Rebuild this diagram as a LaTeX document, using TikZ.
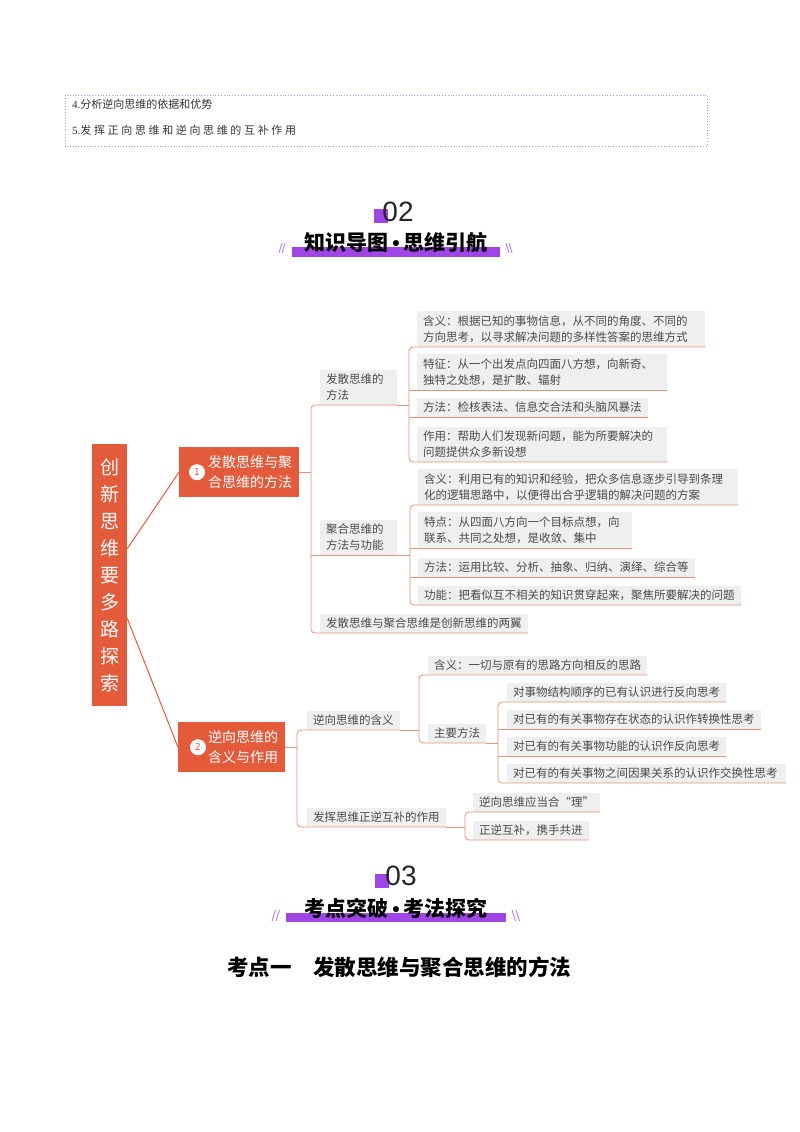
\documentclass[tikz,border=0pt]{standalone}
\usepackage{fontspec}
\setmainfont{Noto Sans CJK SC}
\newfontfamily\listfont{Noto Sans CJK SC}
\newfontfamily\listwide[LetterSpace=24]{Noto Sans CJK SC}
\newfontfamily\listdigit{Liberation Serif}
\newfontfamily\digitfont{Liberation Sans}
\usetikzlibrary{positioning,calc}

\definecolor{mapred}{HTML}{E45B3C}
\definecolor{maplink}{HTML}{E5937A}
\definecolor{boxgray}{HTML}{EFEFEF}
\definecolor{inkgray}{HTML}{4A4A4A}
\definecolor{accent}{HTML}{A046E6}
\definecolor{accentlight}{HTML}{B77FE8}
\definecolor{framepurple}{HTML}{B792DC}

\tikzset{
  leaf/.style={fill=boxgray, text=inkgray, align=left, anchor=south west,
    inner xsep=6pt, inner ysep=4pt, font=\fontsize{11.5}{16.5}\selectfont},
  link/.style={draw=maplink, line width=0.8pt, rounded corners=4pt},
  rootlink/.style={draw=mapred, line width=1pt},
  rootbox/.style={fill=mapred, text=white, align=center, inner sep=0pt,
    minimum width=35pt, minimum height=262pt, font=\fontsize{19}{27}\selectfont},
  mainbox/.style={fill=mapred, minimum height=50pt, anchor=north west, inner sep=0pt},
  maintext/.style={text=white, align=left, anchor=east, inner sep=0pt,
    font=\fontsize{14}{20}\selectfont},
  numdot/.style={circle, fill=white, text=mapred, minimum size=16pt, inner sep=0pt,
    font=\fontsize{10}{10}\selectfont},
  listline/.style={anchor=west, inner sep=0pt, text=black!80,
    font=\fontsize{11}{11}\selectfont},
  bignum/.style={inner sep=0pt, text=black!85, font=\digitfont\fontsize{28}{28}\selectfont},
  secttitle/.style={inner sep=0pt, text=black, font=\fontsize{21}{21}\selectfont\bfseries},
  slash/.style={draw=accentlight, line width=0.9pt}
}
\newcommand{\titledot}{{\digitfont\bfseries\,•\,}}

\begin{document}
\begin{tikzpicture}[x=1pt, y=-1pt]
  \useasboundingbox (0,0) rectangle (800,1132);
  \fill[white] (0,0) rectangle (800,1132);

  %% Objectives box (end of list)
  \draw[framepurple, dotted, line width=0.8pt] (65,95) rectangle (707,146);
  \node[listline] (obj4) at (72,104) {{\listdigit 4.}\listfont 分析逆向思维的依据和优势};
  \node[listline] (obj5) at (72,130) {{\listdigit 5.}\listwide 发挥正向思维和逆向思维的互补作用};

  %% Section 02 title
  \fill[accent] (374,209) rectangle (388,223);
  \node[bignum] (num02) at (398,212) {02};
  \fill[accent] (292,247) rectangle (500,257);
  \node[secttitle] (title02) at (396,243) {知识导图\titledot 思维引航};
  \foreach \x in {279,282} \draw[slash] (\x,253) -- ++(3,-10);
  \foreach \x in {506,509} \draw[slash] (\x,243) -- ++(3,10);

  %% Root and the two main branches
  \node[rootbox] (root) at (109.5,575) {创\\新\\思\\维\\要\\多\\路\\探\\索};

  \node[mainbox, minimum width=120pt] (n1) at (179,447) {};
  \node[maintext] (n1t) at ([xshift=-7pt]n1.east) {发散思维与聚\\合思维的方法};
  \node[numdot] (n1c) at ([xshift=18pt]n1.west) {1};

  \node[mainbox, minimum width=107pt] (n2) at (178,722) {};
  \node[maintext] (n2t) at ([xshift=-7pt]n2.east) {逆向思维的\\含义与作用};
  \node[numdot] (n2c) at ([xshift=20pt]n2.west) {2};

  \draw[rootlink] ($(root.north east)!0.4!(root.south east)$) -- (n1.west);
  \draw[rootlink] ($(root.north east)!0.665!(root.south east)$) -- (n2.west);

  %% Branch 1: second level
  \node[leaf, text width=65pt] (A) at (320,405) {发散思维的\\方法};
  \node[leaf, text width=65pt] (B) at (320,555) {聚合思维的\\方法与功能};
  \node[leaf] (C) at (320,633) {发散思维与聚合思维是创新思维的两翼};

  %% Branch 1: leaves
  \node[leaf, text width=276pt] (a1) at (417,347) {含义：根据已知的事物信息，从不同的角度、不同的\\方向思考，以寻求解决问题的多样性答案的思维方式};
  \node[leaf, text width=238pt] (a2) at (417,390) {特征：从一个出发点向四面八方想，向新奇、\\独特之处想，是扩散、辐射};
  \node[leaf] (a3) at (417,417) {方法：检核表法、信息交合法和头脑风暴法};
  \node[leaf, text width=238pt] (a4) at (417,462) {作用：帮助人们发现新问题，能为所要解决的\\问题提供众多新设想};

  \node[leaf, text width=308pt] (b1) at (418,505) {含义：利用已有的知识和经验，把众多信息逐步引导到条理\\化的逻辑思路中，以便得出合乎逻辑的解决问题的方案};
  \node[leaf, text width=202pt] (b2) at (418,548) {特点：从四面八方向一个目标点想，向\\联系、共同之处想，是收敛、集中};
  \node[leaf] (b3) at (418,577) {方法：运用比较、分析、抽象、归纳、演绎、综合等};
  \node[leaf] (b4) at (418,605) {功能：把看似互不相关的知识贯穿起来，聚焦所要解决的问题};

  %% Branch 2: second and third level
  \node[leaf] (D) at (307,730) {逆向思维的含义};
  \node[leaf] (E) at (307,827) {发挥思维正逆互补的作用};
  \node[leaf] (d1) at (428,675) {含义：一切与原有的思路方向相反的思路};
  \node[leaf] (d2) at (428,743) {主要方法};
  \foreach \nm/\y/\txt in {
      m1/702/{对事物结构顺序的已有认识进行反向思考},
      m2/729/{对已有的有关事物存在状态的认识作转换性思考},
      m3/756/{对已有的有关事物功能的认识作反向思考},
      m4/783/{对已有的有关事物之间因果关系的认识作交换性思考}
  } {
    \node[leaf] (\nm) at (507,\y) {\txt};
  }
  \node[leaf] (e1) at (473,812) {逆向思维应当合“理”};
  \node[leaf] (e2) at (473,840) {正逆互补，携手共进};

  %% Bracket columns
  \coordinate (b0) at (311,0);
  \coordinate (bA) at (409,0);
  \coordinate (bB) at (410,0);
  \coordinate (bN) at (297,0);
  \coordinate (bD) at (419,0);
  \coordinate (bM) at (498,0);
  \coordinate (bE) at (465,0);

  %% Connectors: parent stub, then bracket from first to last child
  \draw[link] (n1.east) -- (b0 |- n1.east);
  \draw[link] (A.south east) -- (A.south west) -| (b0 |- C.south) -- (C.south east);
  \draw[link] (b0 |- B.south) -- (B.south east);

  \draw[link] (A.south east) -- (bA |- A.south);
  \draw[link] (a1.south east) -- (a1.south west) -| (bA |- a4.south) -- (a4.south east);
  \foreach \c in {a2,a3} \draw[link] (bA |- \c.south) -- (\c.south east);

  \draw[link] (B.south east) -- (bB |- B.south);
  \draw[link] (b1.south east) -- (b1.south west) -| (bB |- b4.south) -- (b4.south east);
  \foreach \c in {b2,b3} \draw[link] (bB |- \c.south) -- (\c.south east);

  \draw[link] (n2.east) -- (bN |- n2.east);
  \draw[link] (D.south east) -- (D.south west) -| (bN |- E.south) -- (E.south east);

  \draw[link] (D.south east) -- (bD |- D.south);
  \draw[link] (d1.south east) -- (d1.south west) -| (bD |- d2.south) -- (d2.south east);

  \draw[link] (d2.south east) -- (bM |- d2.south);
  \draw[link] (m1.south east) -- (m1.south west) -| (bM |- m4.south) -- (m4.south east);
  \foreach \c in {m2,m3} \draw[link] (bM |- \c.south) -- (\c.south east);

  \draw[link] (E.south east) -- (bE |- E.south);
  \draw[link] (e1.south east) -- (e1.south west) -| (bE |- e2.south) -- (e2.south east);

  %% Section 03 title
  \fill[accent] (375,874) rectangle (389,888);
  \node[bignum] (num03) at (401,876) {03};
  \fill[accent] (286,913) rectangle (506,922);
  \node[secttitle] (title03) at (396,908) {考点突破\titledot 考法探究};
  \foreach \x in {272,276} \draw[slash] (\x,921) -- ++(3.5,-11);
  \foreach \x in {512,516} \draw[slash] (\x,910) -- ++(3.5,11);

  %% First test point heading
  \node[inner sep=0pt, font=\fontsize{21.5}{21.5}\selectfont\bfseries] (point1)
    at (399,967) {考点一\quad 发散思维与聚合思维的方法};
\end{tikzpicture}
\end{document}
